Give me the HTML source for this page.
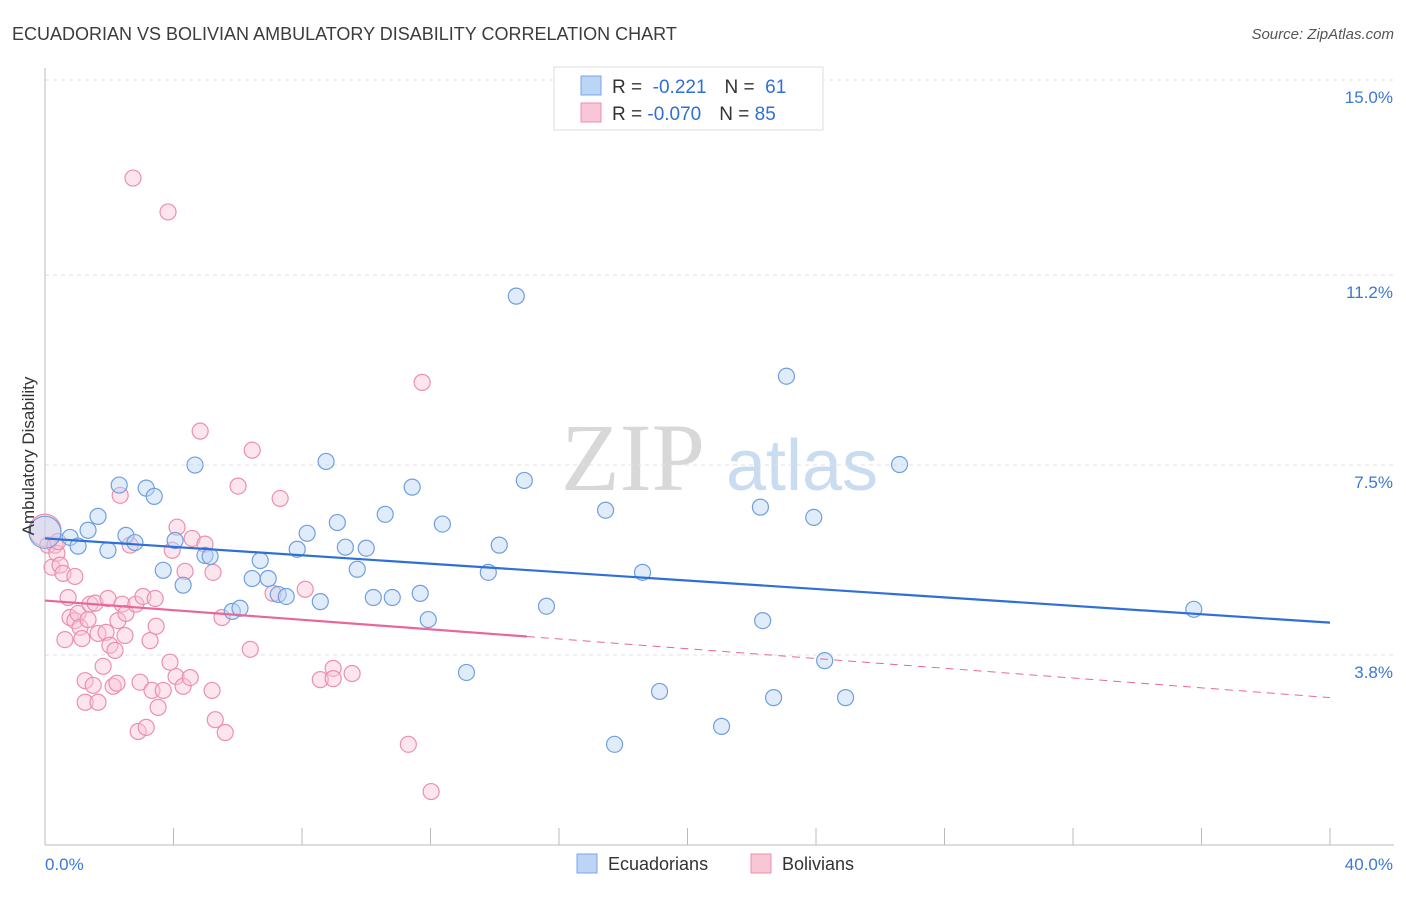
<!DOCTYPE html>
<html><head><meta charset="utf-8"><style>
body{margin:0;background:#fff;font-family:"Liberation Sans",sans-serif;}
</style></head><body>
<svg id="chart" width="1406" height="892" xmlns="http://www.w3.org/2000/svg" font-family="Liberation Sans, sans-serif">
<text x="12" y="40" font-size="18" fill="#3c3c3c">ECUADORIAN VS BOLIVIAN AMBULATORY DISABILITY CORRELATION CHART</text>
<text x="1394" y="39" font-size="15" fill="#555" font-style="italic" text-anchor="end">Source: ZipAtlas.com</text>
<g>
<text x="633" y="490" font-size="96" fill="#d8d8d8" font-family="Liberation Serif, serif" text-anchor="middle">ZIP</text>
<text x="802" y="490" font-size="72" fill="#c9dcf0" text-anchor="middle">atlas</text>
</g>
<g id="grid"></g>
<g id="axes"></g>
<g id="marks"></g>
<text transform="translate(34,456) rotate(-90)" font-size="17" fill="#333" text-anchor="middle">Ambulatory Disability</text>
<text x="45" y="870" font-size="17" fill="#3a78d6">0.0%</text>
<text x="1393" y="870" font-size="17" fill="#3a78d6" text-anchor="end">40.0%</text>
<g>
<rect x="554" y="67" width="269" height="63" fill="#fff" stroke="#ddd"/>
<rect x="581" y="76" width="20" height="19" fill="#bcd4f5" stroke="#7aa6e6"/>
<rect x="581" y="103" width="20" height="19" fill="#f9c6d6" stroke="#ec8fae"/>
<text x="612" y="93" font-size="19" fill="#333">R = <tspan fill="#2f6fd6">&#160;-0.221</tspan><tspan dx="18" fill="#333">N = </tspan><tspan fill="#2f6fd6">&#160;61</tspan></text>
<text x="612" y="120" font-size="19" fill="#333">R = <tspan fill="#2f6fd6">-0.070</tspan><tspan dx="18" fill="#333">N = </tspan><tspan fill="#2f6fd6">85</tspan></text>
</g>
<g>
<rect x="577" y="854" width="20" height="19" fill="#bcd4f5" stroke="#7aa6e6"/>
<text x="608" y="870" font-size="18" fill="#333">Ecuadorians</text>
<rect x="751" y="854" width="20" height="19" fill="#f9c6d6" stroke="#ec8fae"/>
<text x="782" y="870" font-size="18" fill="#333">Bolivians</text>
</g>
</svg>
<script>
const yTicks=[3.8,7.5,11.2,15.0];
const yTickLabels=["3.8%","7.5%","11.2%","15.0%"];
const xTicks=[0,4,8,12,16,20,24,28,32,36,40];
const ecuX=[0,0.78,1.03,1.34,1.65,1.96,2.31,2.52,2.80,3.15,3.40,3.68,4.05,4.30,4.67,4.98,5.14,5.83,6.07,6.45,6.70,6.95,7.26,7.51,7.85,8.16,8.57,8.75,9.10,9.35,9.72,10.0,10.22,10.59,10.81,11.43,11.68,11.93,12.37,13.12,13.80,14.14,14.67,14.92,15.61,17.45,17.73,18.6,19.13,21.06,22.27,22.34,22.68,23.08,23.93,24.27,24.92,26.60,35.76];
const ecuY=[6.19,6.09,5.92,6.23,6.50,5.84,7.11,6.13,5.99,7.05,6.89,5.45,6.03,5.16,7.50,5.74,5.72,4.65,4.71,5.29,5.64,5.29,4.98,4.94,5.86,6.17,4.84,7.57,6.38,5.90,5.47,5.88,4.92,6.54,4.92,7.07,5.00,4.49,6.35,3.46,5.41,5.94,10.79,7.20,4.75,6.62,2.06,5.41,3.09,2.41,6.68,4.47,2.97,9.23,6.48,3.69,2.97,7.51,4.69];
const bolX=[0,0.09,0.22,0.31,0.37,0.40,0.47,0.56,0.72,0.78,0.62,0.93,0.93,1.03,1.09,1.15,1.25,1.25,1.34,1.40,1.50,1.56,1.65,1.65,1.81,1.90,1.96,2.02,2.12,2.18,2.24,2.27,2.34,2.40,2.49,2.52,2.65,2.74,2.83,2.90,2.96,3.05,3.15,3.27,3.33,3.43,3.46,3.52,3.68,3.83,3.89,3.96,4.08,4.11,4.30,4.36,4.52,4.58,4.83,4.98,5.20,5.23,5.30,5.51,5.61,6.01,6.39,6.45,7.10,7.32,8.10,8.57,8.97,8.97,9.56,11.31,11.74,12.02];
const bolY=[6.23,5.94,5.51,5.94,5.78,6.01,5.55,5.39,4.92,4.53,4.10,5.33,4.47,4.61,4.34,4.12,3.30,2.88,4.49,4.79,3.21,4.81,4.22,2.88,3.58,4.24,4.90,3.99,3.19,3.89,3.25,4.47,6.91,4.79,4.18,4.61,5.94,13.09,4.79,2.31,3.27,4.94,2.39,4.08,3.11,4.90,4.36,2.78,3.11,12.43,3.66,5.84,3.38,6.29,3.19,5.43,3.36,6.07,8.16,5.96,3.11,5.41,2.54,4.53,2.29,7.09,3.91,7.79,5.00,6.85,5.08,3.32,3.54,3.34,3.44,2.06,9.11,1.14];
const ecuLine=[6.07,4.43];
const bolLine=[4.86,4.16,2.97];
const bolSolidEnd=15;

const NS="http://www.w3.org/2000/svg";
const sx=v=>45+v*(1285/40);
const sy=v=>80+(15-v)*(575/11.2);
function mk(tag,attrs,parent){const e=document.createElementNS(NS,tag);for(const k in attrs)e.setAttribute(k,attrs[k]);parent.appendChild(e);return e;}
const grid=document.getElementById('grid'),axes=document.getElementById('axes'),marks=document.getElementById('marks');
yTicks.forEach((t,i)=>{
  const l=mk('line',{x1:45,x2:1394,y1:sy(t),y2:sy(t),stroke:'#e2e2e2','stroke-dasharray':'4,4'},grid);
  
  
  const tx=mk('text',{x:1393,y:sy(t)+23,'font-size':17,fill:'#3a78d6','text-anchor':'end'},axes);
  tx.textContent=yTickLabels[i];
  
  
});
const ya=mk('line',{x1:45,x2:45,y1:68,y2:845,stroke:'#bbb'},axes);


const xa=mk('line',{x1:45,x2:1394,y1:845,y2:845,stroke:'#bbb'},axes);


xTicks.forEach(t=>{
  const l=mk('line',{x1:sx(t),x2:sx(t),y1:828,y2:845,stroke:'#bbb'},axes);
  
  
});
function pts(xs,ys,fill,stroke,name){
  xs.forEach((x,i)=>{
    const big=(i===0);
    const c=mk('circle',{cx:sx(x),cy:sy(ys[i]),r:big?16:8,fill:fill,'fill-opacity':0.45,stroke:stroke,'stroke-width':1.2},marks);
    
    
  });
}
pts(bolX,bolY,'#f9c6d6','#ec8fae','bolivian-point');
pts(ecuX,ecuY,'#bcd4f5','#6f9fe0','ecuadorian-point');
const el=mk('line',{x1:sx(0),y1:sy(ecuLine[0]),x2:sx(40),y2:sy(ecuLine[1]),stroke:'#2f6fd6','stroke-width':2.2},marks);


const bl=mk('line',{x1:sx(0),y1:sy(bolLine[0]),x2:sx(bolSolidEnd),y2:sy(bolLine[1]),stroke:'#e8679a','stroke-width':2.2},marks);


const bd=mk('line',{x1:sx(bolSolidEnd),y1:sy(bolLine[1]),x2:sx(40),y2:sy(bolLine[2]),stroke:'#e8679a','stroke-width':1,'stroke-dasharray':'8,6'},marks);


</script>
</body></html>
